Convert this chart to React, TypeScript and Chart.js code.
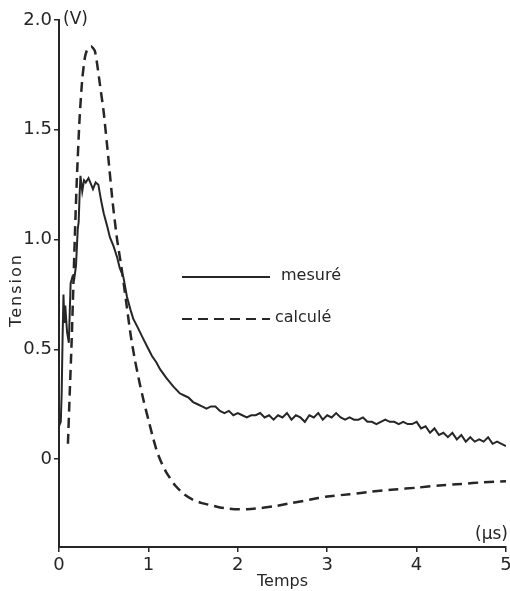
import React, { useEffect, useRef } from "react";
import { Chart, registerables } from "chart.js";

Chart.register(...registerables);

// ---- data ----
const measuredT = [
  0.0, 0.02, 0.03, 0.04, 0.05, 0.06, 0.07, 0.09, 0.11, 0.13, 0.15, 0.17, 0.19, 0.21, 0.22, 0.23, 0.24,
  0.26, 0.28, 0.3, 0.33, 0.36, 0.38, 0.41, 0.44, 0.47, 0.5, 0.54, 0.57, 0.61, 0.65, 0.68, 0.72, 0.76,
  0.8, 0.83, 0.88, 0.94, 0.99, 1.04, 1.09, 1.13, 1.2, 1.28, 1.35, 1.4, 1.45, 1.5, 1.55, 1.6,
  1.65, 1.7, 1.75, 1.8, 1.85, 1.9, 1.95, 2.0, 2.05, 2.1, 2.15, 2.2, 2.25, 2.3, 2.35, 2.4, 2.45, 2.5,
  2.55, 2.6, 2.65, 2.7, 2.75, 2.8, 2.85, 2.9, 2.95, 3.0, 3.05, 3.1, 3.15, 3.2, 3.25, 3.3, 3.35, 3.4,
  3.45, 3.5, 3.55, 3.6, 3.65, 3.7, 3.75, 3.8, 3.85, 3.9, 3.95, 4.0, 4.05, 4.1, 4.15, 4.2, 4.25, 4.3,
  4.35, 4.4, 4.45, 4.5, 4.55, 4.6, 4.65, 4.7, 4.75, 4.8, 4.85, 4.9, 4.95, 5.0,
];
const measuredV = [
  0.15, 0.17, 0.3, 0.55, 0.75, 0.62, 0.7, 0.58, 0.53, 0.8, 0.83, 0.82, 0.88, 1.05, 1.08, 1.2, 1.29,
  1.22, 1.27, 1.26, 1.28, 1.25, 1.23, 1.26, 1.25, 1.18, 1.12, 1.06, 1.01, 0.97, 0.92, 0.87, 0.83, 0.74,
  0.68, 0.64, 0.6, 0.55, 0.51, 0.47, 0.44, 0.41, 0.37, 0.33, 0.3, 0.29, 0.28, 0.26, 0.25,
  0.24, 0.23, 0.24, 0.24, 0.22, 0.21, 0.22, 0.2, 0.21, 0.2, 0.19, 0.2, 0.2, 0.21, 0.19, 0.2, 0.18,
  0.2, 0.19, 0.21, 0.18, 0.2, 0.19, 0.17, 0.2, 0.19, 0.21, 0.18, 0.2, 0.19, 0.21, 0.19, 0.18, 0.19,
  0.18, 0.18, 0.19, 0.17, 0.17, 0.16, 0.17, 0.18, 0.17, 0.17, 0.16, 0.17, 0.16, 0.16, 0.17, 0.14,
  0.15, 0.12, 0.14, 0.11, 0.12, 0.1, 0.12, 0.09, 0.11, 0.08, 0.1, 0.08, 0.09, 0.08, 0.1, 0.07, 0.08,
  0.07, 0.06,
];
const calcT = [
  0.1, 0.12, 0.14, 0.16, 0.18, 0.2, 0.23, 0.26, 0.29, 0.32, 0.36, 0.4, 0.43, 0.46, 0.5, 0.55, 0.6,
  0.65, 0.7, 0.75, 0.8, 0.85, 0.9, 0.95, 1.0, 1.05, 1.1, 1.15, 1.2, 1.3, 1.4, 1.5, 1.6, 1.7, 1.8,
  1.9, 2.0, 2.1, 2.2, 2.4, 2.6, 2.8, 3.0, 3.25, 3.5, 3.75, 4.0, 4.25, 4.5, 4.75, 5.0,
];
const calcV = [
  0.07, 0.3, 0.52, 0.78, 1.05, 1.28, 1.55, 1.73, 1.83, 1.87, 1.88, 1.86, 1.79, 1.7, 1.58, 1.38, 1.17,
  1.0, 0.87, 0.72, 0.57, 0.45, 0.35, 0.26, 0.18, 0.1, 0.03, -0.02, -0.06, -0.12, -0.16, -0.185, -0.2,
  -0.21, -0.22, -0.225, -0.228, -0.228, -0.225, -0.215, -0.2, -0.185, -0.17, -0.16, -0.148, -0.138,
  -0.13, -0.12, -0.113, -0.105, -0.1,
];
const seriesLabels = ["mesuré", "calculé"];
const yTickValues = [0, 0.5, 1.0, 1.5, 2.0];
const yUnit = "(V)";
const xUnit = "(µs)";
const xTitle = "Temps";
const yTitle = "Tension";

const INK = "#262626";
const FONT = "'DejaVu Sans', sans-serif";

const textPlugin = {
  id: "textPlugin",
  afterDraw(chart: any) {
    const ctx = chart.ctx as CanvasRenderingContext2D;
    const area = chart.chartArea;
    ctx.save();
    ctx.fillStyle = INK;
    ctx.strokeStyle = INK;
    // units
    ctx.font = `17px ${FONT}`;
    ctx.textBaseline = "middle";
    ctx.textAlign = "left";
    ctx.fillText(yUnit, area.left + 4, area.top);
    ctx.textAlign = "right";
    ctx.fillText(xUnit, area.right + 2, area.bottom - 12);
    // axis titles
    ctx.font = `16px ${FONT}`;
    ctx.textAlign = "center";
    ctx.fillText(xTitle, (area.left + area.right) / 2, 582);
    ctx.save();
    ctx.translate(17, 290);
    ctx.rotate(-Math.PI / 2);
    (ctx as any).letterSpacing = "2px";
    ctx.fillText(yTitle, 0, 0);
    ctx.restore();
    // legend inside the plot
    const ds = chart.data.datasets;
    const rows = [277, 319];
    ds.forEach((d: any, i: number) => {
      const y = rows[i];
      ctx.save();
      ctx.lineWidth = 2;
      ctx.setLineDash(d.borderDash || []);
      ctx.beginPath();
      ctx.moveTo(182, y);
      ctx.lineTo(270, y);
      ctx.stroke();
      ctx.restore();
      ctx.font = `16px ${FONT}`;
      ctx.textAlign = "left";
      ctx.textBaseline = "middle";
      ctx.fillText(d.label, i === 0 ? 281 : 275, y - 1);
    });
    ctx.restore();
  },
};

export default function App() {
  const ref = useRef<HTMLCanvasElement | null>(null);
  useEffect(() => {
    document.body.style.margin = "0";
    const canvas = ref.current;
    if (!canvas) return;
    const chart = new Chart(canvas, {
      type: "line",
      data: {
        datasets: [
          {
            label: seriesLabels[0],
            data: measuredT.map((t, i) => ({ x: t, y: measuredV[i] })),
            borderColor: INK,
            borderWidth: 2,
            pointRadius: 0,
            tension: 0,
            fill: false,
          },
          {
            label: seriesLabels[1],
            data: calcT.map((t, i) => ({ x: t, y: calcV[i] })),
            borderColor: INK,
            borderWidth: 2.5,
            borderDash: [10, 6],
            pointRadius: 0,
            tension: 0.2,
            fill: false,
          },
        ],
      },
      options: {
        animation: false,
        responsive: false,
        devicePixelRatio: 1,
        layout: { padding: { top: 20, right: 4, left: 0, bottom: 0 } },
        plugins: {
          legend: { display: false },
          tooltip: { enabled: false },
          title: { display: false },
        },
        scales: {
          x: {
            type: "linear",
            min: 0,
            max: 5,
            border: { display: true, color: INK, width: 2 },
            grid: { drawOnChartArea: false, drawTicks: true, tickLength: 5, color: INK, lineWidth: 1.5 },
            ticks: {
              stepSize: 1,
              color: INK,
              padding: 3,
              maxRotation: 0,
              font: { family: FONT, size: 18 },
              callback: (v: any) => String(v),
            },
            afterFit: (s: any) => {
              s.height = 44;
              s.paddingLeft = 0;
              s.paddingRight = 0;
            },
          },
          y: {
            type: "linear",
            min: -0.4,
            max: 2.0,
            border: { display: true, color: INK, width: 2 },
            grid: { drawOnChartArea: false, drawTicks: true, tickLength: 5, color: INK, lineWidth: 1.5 },
            afterBuildTicks: (s: any) => {
              s.ticks = yTickValues.map((v) => ({ value: v }));
            },
            ticks: {
              color: INK,
              padding: 2,
              font: { family: FONT, size: 18 },
              callback: (v: any) => (Number(v) === 0 ? "0" : Number(v).toFixed(1)),
            },
            afterFit: (s: any) => {
              s.width = 59;
              s.paddingTop = 0;
              s.paddingBottom = 0;
            },
          },
        },
      },
      plugins: [textPlugin],
    } as any);
    return () => chart.destroy();
  }, []);
  return (
    <div style={{ position: "fixed", left: 0, top: 0, width: 510, height: 591, background: "#fff" }}>
      <canvas ref={ref} width={510} height={591} style={{ display: "block", width: 510, height: 591 }} />
    </div>
  );
}
